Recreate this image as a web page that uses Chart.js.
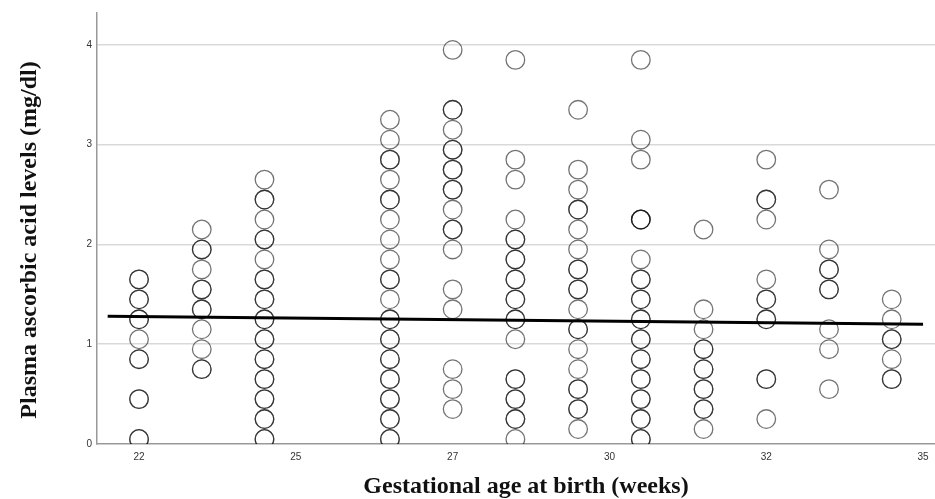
<!DOCTYPE html>
<html>
<head>
<meta charset="utf-8">
<script src="https://cdn.jsdelivr.net/npm/chart.js@4"></script>
<style>
  body { margin: 0; background: #fff; }
</style>
</head>
<body>
<canvas id="ascorbicChart" width="935" height="499"></canvas>
<script>
// gestational age (weeks) of each column of circles
const ages = [22, 23, 24, 26, 27, 28, 29, 30, 31, 32, 33, 34];

// plasma ascorbic acid (mg/dl) per week, repeated values = overlapping patients
const week22 = [1.65, 1.65, 1.45, 1.45, 1.25, 1.25, 1.05, 0.85, 0.85, 0.45, 0.45, 0.05, 0.05];
const week23 = [2.15, 1.95, 1.95, 1.75, 1.55, 1.55, 1.35, 1.35, 1.15, 0.95, 0.75, 0.75];
const week24 = [2.65, 2.45, 2.45, 2.25, 2.05, 2.05, 1.85, 1.65, 1.65, 1.45, 1.45, 1.25, 1.25, 1.05, 1.05, 0.85, 0.85, 0.65, 0.65, 0.45, 0.45, 0.25, 0.25, 0.05, 0.05];
const week26 = [3.25, 3.05, 2.85, 2.85, 2.65, 2.45, 2.45, 2.25, 2.05, 1.85, 1.65, 1.65, 1.45, 1.25, 1.25, 1.05, 1.05, 0.85, 0.85, 0.65, 0.65, 0.45, 0.45, 0.25, 0.25, 0.05, 0.05];
const week27 = [3.95, 3.35, 3.35, 3.15, 2.95, 2.95, 2.75, 2.75, 2.55, 2.55, 2.35, 2.15, 2.15, 1.95, 1.55, 1.35, 0.75, 0.55, 0.35];
const week28 = [3.85, 2.85, 2.65, 2.25, 2.05, 2.05, 1.85, 1.85, 1.65, 1.65, 1.45, 1.45, 1.25, 1.25, 1.05, 0.65, 0.65, 0.45, 0.45, 0.25, 0.25, 0.05];
const week29 = [3.35, 2.75, 2.55, 2.35, 2.35, 2.15, 1.95, 1.75, 1.75, 1.55, 1.55, 1.35, 1.15, 1.15, 0.95, 0.75, 0.55, 0.55, 0.35, 0.35, 0.15];
const week30 = [3.85, 3.05, 2.85, 2.25, 2.25, 2.25, 1.85, 1.65, 1.65, 1.45, 1.45, 1.25, 1.25, 1.05, 1.05, 0.85, 0.85, 0.65, 0.65, 0.45, 0.45, 0.25, 0.25, 0.05, 0.05];
const week31 = [2.15, 1.35, 1.15, 0.95, 0.95, 0.75, 0.75, 0.55, 0.55, 0.35, 0.35, 0.15];
const week32 = [2.85, 2.45, 2.45, 2.25, 1.65, 1.45, 1.45, 1.25, 1.25, 0.65, 0.65, 0.25];
const week33 = [2.55, 1.95, 1.75, 1.75, 1.55, 1.55, 1.15, 0.95, 0.55];
const week34 = [1.45, 1.25, 1.05, 1.05, 0.85, 0.65, 0.65];
const levels = [week22, week23, week24, week26, week27, week28, week29, week30, week31, week32, week33, week34];

// fit line end points
const fitX = [21.5, 34.5];
const fitY = [1.28, 1.20];

// x tick positions (labels are rounded, as in the original)
const xTicks = [22, 24.5, 27, 29.5, 32, 34.5];
const yTicks = [0, 1, 2, 3, 4];

let points = [];
for (let i = 0; i < ages.length; i++) {
    for (let j = 0; j < levels[i].length; j++) {
        points.push({ x: ages[i], y: levels[i][j] });
    }
}
let fitLine = [];
for (let i = 0; i < fitX.length; i++) {
    fitLine.push({ x: fitX[i], y: fitY[i] });
}

// axis titles drawn by hand so they sit where the original has them
const axisTitles = {
    id: 'axisTitles',
    afterDraw(chart) {
        const c = chart.ctx;
        c.save();
        c.font = 'bold 24px "Liberation Serif"';
        c.fillStyle = '#111';
        c.textAlign = 'center';
        c.textBaseline = 'alphabetic';
        c.fillText('Gestational age at birth (weeks)', 526, 493);
        c.translate(36, 240);
        c.rotate(-Math.PI / 2);
        c.fillText('Plasma ascorbic acid levels (mg/dl)', 0, 0);
        c.restore();
    }
};

const ctx = document.getElementById('ascorbicChart').getContext('2d');
new Chart(ctx, {
    type: 'scatter',
    data: {
        datasets: [
            {
                label: 'Fit',
                data: fitLine,
                showLine: true,
                borderColor: '#000',
                borderWidth: 3,
                pointRadius: 0,
                order: 0
            },
            {
                label: 'Ascorbic acid',
                data: points,
                pointRadius: 9.3,
                pointBorderWidth: 1.3,
                pointBorderColor: 'rgba(0, 0, 0, 0.55)',
                pointBackgroundColor: 'rgba(0, 0, 0, 0)',
                clip: 0,
                order: 1
            }
        ]
    },
    options: {
        responsive: false,
        animation: false,
        layout: { autoPadding: false, padding: { top: 13, left: 0, right: 0, bottom: 0 } },
        plugins: {
            legend: { display: false },
            tooltip: { enabled: false }
        },
        scales: {
            x: {
                type: 'linear',
                min: 21.33,
                max: 34.69,
                afterBuildTicks: (scale) => { scale.ticks = xTicks.map(v => ({ value: v })); },
                afterFit: (scale) => {
                    scale.height = 55;
                    scale.paddingLeft = 0;
                    scale.paddingRight = 0;
                },
                grid: { drawOnChartArea: false, drawTicks: false },
                border: { color: '#999', width: 1.5 },
                ticks: {
                    color: '#333',
                    padding: 7,
                    font: { family: 'Liberation Sans', size: 10 },
                    callback: (v) => Math.round(v)
                }
            },
            y: {
                min: 0,
                max: 4.32,
                afterBuildTicks: (scale) => { scale.ticks = yTicks.map(v => ({ value: v })); },
                afterFit: (scale) => { scale.width = 97; },
                grid: {
                    drawTicks: false,
                    lineWidth: 1.5,
                    color: (c) => c.tick && c.tick.value === 0 ? 'rgba(0,0,0,0)' : '#d9d9d9'
                },
                border: { color: '#999', width: 1.5 },
                ticks: {
                    color: '#333',
                    padding: 5,
                    font: { family: 'Liberation Sans', size: 10 }
                }
            }
        }
    },
    plugins: [axisTitles]
});
</script>
</body>
</html>
